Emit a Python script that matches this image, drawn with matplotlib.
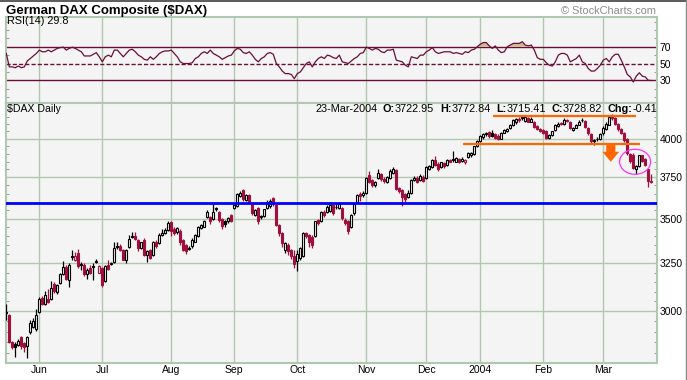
import numpy as np
import matplotlib
matplotlib.use("Agg")
from matplotlib import pyplot as plt
from matplotlib.patches import Ellipse
from matplotlib.lines import Line2D
from matplotlib.ticker import FixedLocator, MultipleLocator, NullFormatter, FuncFormatter
from matplotlib.transforms import ScaledTranslation
from matplotlib.offsetbox import TextArea, HPacker, AnchoredOffsetbox

plt.rcParams['font.family'] = ['Liberation Sans', 'DejaVu Sans']

# daily bars 16-May-2003 .. 23-Mar-2004, ten bars per row
opens = [
    2990, 2981, 2850, 2840, 2836, 2875, 2845, 2832, 2896, 2921,
    2911, 2995, 3068, 3035, 3060, 3060, 3137, 3098, 3146, 3190,
    3230, 3163, 3285, 3266, 3306, 3240, 3243, 3190, 3225, 3237,
    3260, 3198, 3225, 3155, 3243, 3248, 3255, 3340, 3345, 3324,
    3270, 3340, 3397, 3400, 3380, 3335, 3380, 3297, 3324, 3297,
    3370, 3360, 3408, 3418, 3436, 3480, 3440, 3425, 3430, 3380,
    3350, 3330, 3343, 3370, 3400, 3445, 3455, 3512, 3510, 3500,
    3562, 3540, 3500, 3490, 3485, 3522, 3562, 3575, 3637, 3672,
    3612, 3640, 3590, 3522, 3562, 3510, 3516, 3562, 3575, 3621,
    3580, 3465, 3418, 3320, 3352, 3324, 3290, 3262, 3280, 3290,
    3418, 3408, 3398, 3400, 3493, 3485, 3540, 3542, 3545, 3580,
    3572, 3562, 3565, 3495, 3490, 3455, 3532, 3601, 3645, 3640,
    3651, 3765, 3734, 3700, 3745, 3770, 3740, 3724, 3745, 3775,
    3795, 3685, 3672, 3650, 3632, 3655, 3735, 3748, 3735, 3755,
    3745, 3800, 3818, 3860, 3838, 3815, 3842, 3830, 3862, 3862,
    3850, 3868, 3852, 3845, 3882, 3890, 3900, 3950, 3985, 4010,
    4030, 4045, 4040, 4030, 4020, 4000, 4040, 4055, 4070, 4090,
    4110, 4135, 4145, 4120, 4140, 4115, 4110, 4085, 4066, 4060,
    4050, 4005, 4025, 4060, 4085, 4105, 4100, 4128, 4115, 4060,
    4075, 4095, 4130, 4120, 4075, 4030, 3985, 4000, 3995, 4035,
    4066, 4095, 4150, 4140, 4100, 4066, 4040, 4000, 3900, 3895,
    3800, 3820, 3890, 3865, 3800, 3722.95]
highs = [
    3038, 2985, 2855, 2850, 2862, 2880, 2850, 2878, 2955, 2965,
    3010, 3070, 3077, 3103, 3111, 3154, 3150, 3140, 3200, 3262,
    3240, 3250, 3324, 3310, 3330, 3255, 3250, 3225, 3240, 3254,
    3275, 3240, 3230, 3240, 3266, 3255, 3365, 3365, 3355, 3330,
    3330, 3408, 3425, 3425, 3385, 3370, 3390, 3320, 3330, 3375,
    3378, 3420, 3440, 3445, 3490, 3490, 3450, 3455, 3440, 3385,
    3355, 3345, 3390, 3415, 3460, 3470, 3495, 3550, 3515, 3596,
    3570, 3545, 3505, 3495, 3510, 3530, 3585, 3655, 3665, 3680,
    3650, 3648, 3595, 3558, 3570, 3520, 3560, 3610, 3615, 3630,
    3585, 3470, 3425, 3370, 3360, 3330, 3320, 3320, 3340, 3425,
    3425, 3412, 3405, 3490, 3500, 3545, 3550, 3580, 3600, 3585,
    3585, 3600, 3570, 3505, 3495, 3530, 3600, 3650, 3660, 3665,
    3755, 3790, 3740, 3730, 3800, 3780, 3750, 3760, 3800, 3815,
    3800, 3690, 3680, 3655, 3670, 3740, 3760, 3760, 3770, 3765,
    3820, 3830, 3870, 3885, 3845, 3850, 3850, 3865, 3868, 3920,
    3880, 3875, 3878, 3868, 3910, 3915, 3955, 3990, 4022, 4040,
    4045, 4055, 4060, 4040, 4030, 4045, 4065, 4070, 4100, 4135,
    4140, 4145, 4160, 4150, 4148, 4150, 4118, 4092, 4072, 4068,
    4060, 4030, 4055, 4098, 4110, 4115, 4140, 4135, 4120, 4080,
    4100, 4125, 4140, 4125, 4080, 4035, 4000, 4010, 4038, 4085,
    4110, 4150, 4165, 4145, 4105, 4070, 4045, 4005, 3905, 3905,
    3830, 3895, 3895, 3875, 3805, 3772.84]
lows = [
    2956, 2845, 2815, 2781, 2830, 2815, 2805, 2775, 2890, 2915,
    2905, 2990, 3030, 3030, 3040, 3055, 3095, 3090, 3140, 3185,
    3160, 3122, 3266, 3260, 3225, 3215, 3180, 3165, 3190, 3163,
    3250, 3195, 3125, 3150, 3215, 3240, 3250, 3330, 3315, 3265,
    3252, 3335, 3390, 3380, 3315, 3330, 3290, 3256, 3275, 3290,
    3335, 3355, 3400, 3410, 3430, 3400, 3405, 3410, 3350, 3315,
    3300, 3320, 3335, 3365, 3395, 3440, 3450, 3505, 3470, 3495,
    3545, 3480, 3440, 3450, 3475, 3480, 3555, 3570, 3630, 3605,
    3605, 3595, 3525, 3515, 3470, 3500, 3510, 3555, 3565, 3575,
    3460, 3400, 3340, 3305, 3295, 3275, 3225, 3210, 3270, 3285,
    3390, 3340, 3335, 3395, 3465, 3480, 3510, 3535, 3540, 3520,
    3560, 3555, 3495, 3465, 3415, 3445, 3525, 3595, 3605, 3630,
    3645, 3715, 3690, 3690, 3740, 3730, 3715, 3715, 3740, 3770,
    3670, 3655, 3575, 3600, 3625, 3650, 3725, 3715, 3730, 3720,
    3740, 3795, 3810, 3820, 3790, 3810, 3812, 3825, 3845, 3850,
    3845, 3840, 3845, 3835, 3875, 3880, 3895, 3945, 3975, 4000,
    4020, 4005, 4010, 3995, 3990, 3995, 4035, 4045, 4065, 4085,
    4100, 4115, 4125, 4115, 4110, 4110, 4075, 4058, 4045, 4030,
    3998, 3995, 4020, 4055, 4080, 4090, 4095, 4110, 4062, 4050,
    4070, 4090, 4115, 4070, 4025, 3970, 3960, 3985, 3990, 4025,
    4060, 4090, 4125, 4090, 4055, 4030, 3980, 3895, 3840, 3800,
    3770, 3815, 3845, 3820, 3690, 3715.41]
closes = [
    2995, 2851, 2825, 2825, 2856, 2830, 2828, 2875, 2940, 2950,
    2981, 3060, 3035, 3080, 3045, 3120, 3103, 3132, 3190, 3230,
    3167, 3243, 3290, 3288, 3234, 3245, 3190, 3216, 3200, 3232,
    3255, 3234, 3133, 3234, 3220, 3250, 3333, 3343, 3320, 3270,
    3324, 3384, 3400, 3385, 3335, 3365, 3297, 3315, 3280, 3370,
    3343, 3408, 3420, 3436, 3475, 3427, 3420, 3445, 3365, 3325,
    3315, 3335, 3380, 3408, 3455, 3465, 3490, 3540, 3485, 3540,
    3555, 3493, 3458, 3468, 3503, 3485, 3580, 3650, 3655, 3615,
    3640, 3602, 3535, 3552, 3485, 3514, 3556, 3600, 3607, 3585,
    3465, 3420, 3362, 3362, 3315, 3290, 3245, 3300, 3334, 3418,
    3400, 3365, 3352, 3485, 3476, 3540, 3522, 3572, 3581, 3535,
    3568, 3585, 3505, 3475, 3430, 3522, 3590, 3641, 3638, 3652,
    3745, 3724, 3703, 3720, 3775, 3740, 3725, 3755, 3790, 3800,
    3680, 3665, 3632, 3620, 3655, 3734, 3748, 3722, 3760, 3730,
    3815, 3820, 3860, 3830, 3800, 3845, 3820, 3858, 3850, 3866,
    3872, 3848, 3870, 3862, 3903, 3905, 3950, 3985, 4015, 4030,
    4040, 4015, 4020, 4005, 4000, 4040, 4060, 4065, 4095, 4130,
    4135, 4128, 4140, 4145, 4115, 4135, 4080, 4065, 4050, 4035,
    4005, 4025, 4050, 4092, 4100, 4098, 4130, 4120, 4070, 4075,
    4095, 4115, 4125, 4080, 4035, 3985, 3990, 3995, 4030, 4075,
    4100, 4146, 4140, 4100, 4066, 4040, 3990, 3905, 3855, 3810,
    3825, 3890, 3855, 3830, 3729.23, 3728.82]
rsi14 = [
    62, 46, 46, 45, 47, 45, 46, 53, 56, 59,
    62, 66, 64, 64, 66, 64, 66, 68, 69, 69.5,
    66, 68, 69.5, 68, 66, 64, 59, 59, 59, 61,
    63, 58, 52, 58, 60, 58, 66, 66, 62, 58,
    62, 66, 67, 64, 60, 58, 55, 54, 58, 55,
    58, 62, 64, 65, 65, 66, 62, 58, 52, 50,
    50, 50, 51, 56, 58, 62, 64, 62, 66, 62,
    60, 58, 55, 57, 59, 60, 65, 68, 67, 63,
    62, 64, 60, 55, 52, 56, 58, 62, 63, 61,
    50, 46, 41, 38, 38, 37, 32, 38, 40, 45,
    50, 52, 46, 52, 56, 58, 56, 60, 59, 57,
    56, 60, 52, 51, 50, 53, 56, 58, 62, 63,
    69.5, 68, 66, 68, 67, 64, 63, 66, 66, 67,
    54, 53, 52, 48, 46, 58, 57, 56, 60, 60,
    64, 66, 69, 64, 62, 63, 64, 64, 64, 62,
    63, 62, 61, 64, 63, 66, 67, 70, 73, 75,
    75, 71, 68, 71, 66, 63, 64, 70, 72, 74,
    74, 74, 76, 72, 71, 72, 66, 57, 55, 55,
    51, 48, 47, 52, 60, 62, 62, 60, 52, 54,
    56, 60, 52, 50, 44, 41, 41, 44, 48, 54,
    56, 52, 58, 61, 61, 54, 46, 37, 34, 28,
    35, 39, 35, 34, 30, 29.8]

month_labels = ['Jun', 'Jul', 'Aug', 'Sep', 'Oct', 'Nov', 'Dec', '2004', 'Feb', 'Mar']
month_bar = [11, 32, 55, 76, 97, 120, 140, 158, 179, 199]
price_ticks = [3000, 3250, 3500, 3750, 4000]
rsi_levels = [30, 50, 70]

# hand-drawn annotations
support = 3596
top_line, top_from, top_to = 4157, 162.2, 209.9
neck_line, neck_from, neck_to = 3965, 152.2, 211.2

RED = '#a0103c'
PANEL = '#f4f4f4'
GRID = '#b0c8b0'
RSI_COL = '#6b0d38'
ORANGE = '#ff6600'

W, H = 687, 380


def frac(x0, y_top, x1, y_bot):
    return [x0 / W, 1 - y_bot / H, (x1 - x0) / W, (y_bot - y_top) / H]


fig = plt.figure(figsize=(W / 100, H / 100), dpi=100)
ax_rsi = fig.add_axes(frac(5.7, 17, 657, 102.5))
ax = fig.add_axes(frac(5.7, 102.5, 657, 363))

x = np.arange(len(closes))
o, h, l, c = (np.array(v, dtype=float) for v in (opens, highs, lows, closes))
prev = np.r_[c[0] - 1, c[:-1]]
edge = np.where(c >= prev, 'black', RED)
face = np.where(c >= o, PANEL, edge)

# candles
ax.vlines(x, l, h, colors=edge, lw=0.9, zorder=3)
ax.bar(x, np.abs(c - o), bottom=np.minimum(o, c), width=0.7, color=face,
       edgecolor=edge, linewidth=0.8, zorder=4)

# RSI
r = np.array(rsi14, dtype=float)
ax_rsi.fill_between(x, r, 70, where=r > 70, interpolate=True, color='#c9bd8e', lw=0, zorder=3)
ax_rsi.fill_between(x, r, 30, where=r < 30, interpolate=True, color='#c9bd8e', lw=0, zorder=3)
for lv in rsi_levels:
    if lv == 50:
        ax_rsi.axhline(lv, color=RSI_COL, lw=1.0, dashes=(3, 1.5), zorder=2)
    else:
        ax_rsi.axhline(lv, color=RSI_COL, lw=1.0, zorder=2)
ax_rsi.plot(x, r, color=RSI_COL, lw=0.9, zorder=4)

# axes styling
for a in (ax_rsi, ax):
    a.set_facecolor(PANEL)
    a.set_axisbelow(True)
    a.set_xlim(-0.2, 216.9)
    a.xaxis.set_major_locator(FixedLocator(month_bar))
    a.grid(axis='x', color=GRID, lw=1.0)
    for s in a.spines.values():
        s.set_color(GRID)
        s.set_linewidth(1.5)
    a.yaxis.tick_right()
    a.tick_params(which='major', length=0, labelsize=7.5, pad=2)
    a.tick_params(which='minor', direction='in', left=True, right=True,
                  length=2.5, width=0.7, color='#8fa08f')
    a.tick_params(axis='x', which='minor', bottom=False, top=False)

ax.set_yscale('log')
ax.set_ylim(2752, 4249)
ax.yaxis.set_major_locator(FixedLocator(price_ticks))
ax.yaxis.set_major_formatter(FuncFormatter(lambda v, _: f'{v:.0f}'))
ax.yaxis.set_minor_locator(MultipleLocator(50))
ax.yaxis.set_minor_formatter(NullFormatter())
ax.grid(axis='y', which='major', color=GRID, lw=1.0)
ax.set_xticklabels(month_labels)
ax.tick_params(axis='x', pad=1.5)

ax_rsi.set_ylim(3.6, 105.4)
ax_rsi.yaxis.set_major_locator(FixedLocator(rsi_levels))
ax_rsi.yaxis.set_minor_locator(MultipleLocator(10))
ax_rsi.set_xticklabels([])

# annotations on price panel
ax.axhline(support, color='#0000ff', lw=2.0, zorder=6)
ax.hlines([top_line, neck_line], [top_from, neck_from], [top_to, neck_to],
          color=ORANGE, lw=1.6, zorder=6)
ax.annotate('', xy=(201.5, 3849), xytext=(201.5, 3958),
            arrowprops=dict(arrowstyle='simple,head_length=0.6,head_width=1.0,tail_width=0.55',
                            mutation_scale=12, color=ORANGE, lw=0, shrinkA=0, shrinkB=0),
            zorder=6)
ring = Ellipse((0, 0), 0.31, 0.25, fill=False, edgecolor='#ff33ff', lw=0.9, zorder=7,
               transform=fig.dpi_scale_trans + ScaledTranslation(209.6, 3849, ax.transData))
ax.add_artist(ring)

# texts
fig.text(6 / W, 1 - 11 / H, 'German DAX Composite (\\$DAX)', fontsize=9.5,
         fontweight='bold', ha='left', va='center')
fig.text(656 / W, 1 - 11 / H, '\u00a9 StockCharts.com', fontsize=7.9,
         color='#8c8c8c', ha='right', va='center')
fig.text(7 / W, 1 - 21.5 / H, 'RSI(14) 29.8', fontsize=7.8, ha='left', va='center')
fig.text(7 / W, 1 - 109 / H, '\\$DAX Daily', fontsize=7.6, ha='left', va='center')

reg = dict(fontsize=7.8)
bold = dict(fontsize=7.8, fontweight='bold')
groups = [HPacker(children=[TextArea('23-Mar-2004', textprops=reg)], pad=0, sep=0)]
for lab, val in [('O:', '3722.95'), ('H:', '3772.84'), ('L:', '3715.41'),
                 ('C:', '3728.82'), ('Chg:', '-0.41')]:
    groups.append(HPacker(children=[TextArea(lab, textprops=bold),
                                    TextArea(val, textprops=reg)], pad=0, sep=0))
header = AnchoredOffsetbox(loc='center right', child=HPacker(children=groups, pad=0, sep=4),
                           pad=0, borderpad=0, frameon=False,
                           bbox_to_anchor=(657.5 / W, 1 - 109 / H),
                           bbox_transform=fig.transFigure)
fig.add_artist(header)

# image frame
fig.add_artist(Line2D([0, 1], [1 - 0.8 / H, 1 - 0.8 / H], transform=fig.transFigure,
                      color='#5a5a5a', lw=1.4))
fig.add_artist(Line2D([1 - 0.6 / W, 1 - 0.6 / W], [0, 1], transform=fig.transFigure,
                      color='#8a8a8a', lw=1.0))

fig.savefig('out.png', dpi=100)
